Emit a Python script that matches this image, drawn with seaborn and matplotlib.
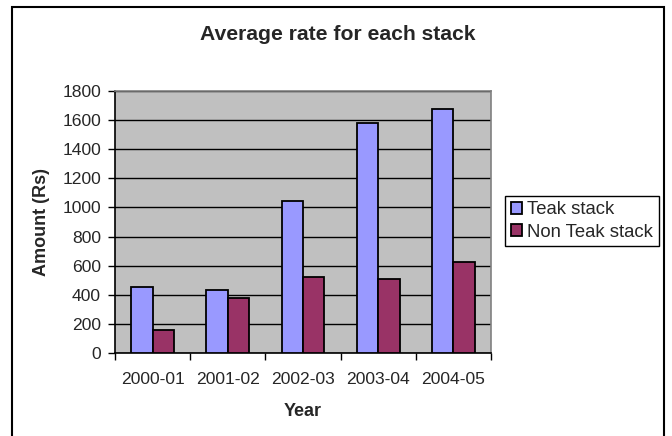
import matplotlib
matplotlib.use("Agg")
import matplotlib.pyplot as plt
import matplotlib.patches as mpatches
import seaborn as sns
import pandas as pd

years = ["2000-01", "2001-02", "2002-03", "2003-04", "2004-05"]
teak = [455, 435, 1045, 1580, 1675]
non_teak = [160, 375, 520, 510, 625]
series_names = ["Teak stack", "Non Teak stack"]
colors = ["#9999FF", "#993366"]
y_ticks = [0, 200, 400, 600, 800, 1000, 1200, 1400, 1600, 1800]

df = pd.DataFrame({
    "Year": years * 2,
    "Amount": teak + non_teak,
    "Stack": [series_names[0]] * len(years) + [series_names[1]] * len(years),
})

sns.set_style("white")
plt.rcParams["font.family"] = ["Liberation Sans", "DejaVu Sans"]

W, H = 672, 436
fig = plt.figure(figsize=(W / 100, H / 100), dpi=100)

# outer chart frame
fig.add_artist(mpatches.Rectangle((12 / W, -10 / H), (664 - 12) / W, (429 + 10) / H,
                                  transform=fig.transFigure, fill=False,
                                  edgecolor="black", linewidth=1.5))

ax = fig.add_axes([115 / W, (H - 353) / H, 376 / W, 262 / H])
ax.set_facecolor("#C0C0C0")

sns.barplot(data=df, x="Year", y="Amount", hue="Stack", palette=colors,
            saturation=1, width=0.57, edgecolor="black", linewidth=1.3,
            ax=ax, zorder=3, legend=True)

ax.set_ylim(0, 1800)
ax.set_yticks(y_ticks)
ax.set_xlim(-0.5, len(years) - 0.5)
ax.yaxis.grid(True, color="black", linewidth=1.0, zorder=1)
ax.set_axisbelow(True)

# ticks sit between categories on the x axis
ax.set_xticks([i - 0.5 for i in range(len(years) + 1)], minor=True)
ax.tick_params(axis="x", which="minor", length=5, width=1, color="black", direction="out", bottom=True)
ax.tick_params(axis="x", which="major", length=0, labelsize=12.6, pad=14)
ax.tick_params(axis="y", length=5, width=1, color="black", direction="out", left=True,
               labelsize=12.6, pad=5)

for side in ["left", "bottom"]:
    ax.spines[side].set_color("black")
    ax.spines[side].set_linewidth(1.2)
for side in ["top", "right"]:
    ax.spines[side].set_color("#808080")
    ax.spines[side].set_linewidth(1.2)

ax.set_xlabel("Year", fontsize=13, fontweight="bold", labelpad=11)
ax.set_ylabel("Amount (Rs)", fontsize=13, fontweight="bold", labelpad=9)
fig.text(338 / W, 1 - 35 / H, "Average rate for each stack",
         ha="center", va="center", fontsize=15.2, fontweight="bold")

leg = ax.legend(loc="center left", bbox_to_anchor=(505 / W, 1 - 221 / H),
                bbox_transform=fig.transFigure, frameon=True, fancybox=False,
                edgecolor="black", framealpha=1, fontsize=13.3, handlelength=0.6,
                handleheight=0.6, handletextpad=0.3, borderpad=0.3,
                labelspacing=0.3, borderaxespad=0)
leg.get_frame().set_linewidth(1.0)

fig.savefig("out.png", dpi=100)
